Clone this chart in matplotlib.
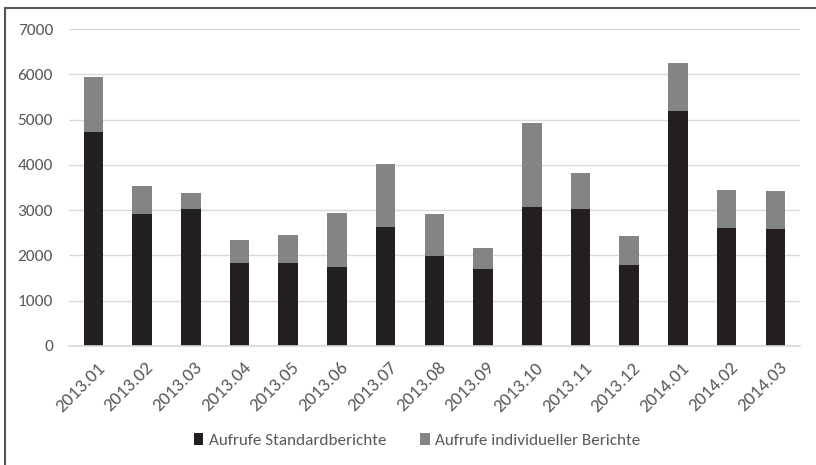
import matplotlib.pyplot as plt
import numpy as np
from matplotlib.lines import Line2D
from matplotlib.transforms import ScaledTranslation

plt.rcParams['font.family'] = ['Carlito', 'DejaVu Sans']

months = ['2013.01', '2013.02', '2013.03', '2013.04', '2013.05', '2013.06',
          '2013.07', '2013.08', '2013.09', '2013.10', '2013.11', '2013.12',
          '2014.01', '2014.02', '2014.03']
standard = [4730, 2920, 3025, 1830, 1835, 1750, 2635, 1985, 1705, 3060,
            3030, 1780, 5180, 2610, 2590]
individual = [1215, 615, 355, 510, 605, 1195, 1385, 920, 455, 1860,
              790, 655, 1060, 825, 825]

fig = plt.figure(figsize=(8.16, 4.65), dpi=100)
ax = fig.add_axes([0.0846, 0.256, 0.8954, 0.6816])

x = np.arange(len(months))
ax.bar(x, standard, width=0.4, color='#231f20', label='Aufrufe Standardberichte', zorder=2)
ax.bar(x, individual, width=0.4, bottom=standard, color='#838485',
       label='Aufrufe individueller Berichte', zorder=2)

ax.set_xlim(-0.5, len(months) - 0.5)
ax.set_ylim(0, 7000)
ax.set_yticks(range(0, 7001, 1000))
ax.yaxis.grid(True, color='#d9d9d9', linewidth=1, zorder=0)
ax.set_axisbelow(True)
for side in ['top', 'right', 'left']:
    ax.spines[side].set_visible(False)
ax.spines['bottom'].set_color('#d9d9d9')
ax.spines['bottom'].set_linewidth(1.2)
ax.tick_params(axis='y', length=0, labelsize=12.5, labelcolor='#595959', pad=11.5)
ax.set_xticks(x)
ax.set_xticklabels(months, rotation=45, ha='right', va='top', rotation_mode='anchor')
ax.tick_params(axis='x', length=0, labelsize=13.5, labelcolor='#595959', pad=4)
# nudge the slanted month labels so they end just right of each bar
shift = ScaledTranslation(3 / 100, -8 / 100, fig.dpi_scale_trans)
for lbl in ax.get_xticklabels():
    lbl.set_transform(lbl.get_transform() + shift)

ax.legend(loc='center', bbox_to_anchor=(0.511, 0.053), bbox_transform=fig.transFigure,
          ncol=2, frameon=False, fontsize=12.3, handlelength=0.55, handleheight=0.75,
          columnspacing=2.0, handletextpad=0.3, labelcolor='#595959')

# outer frame
fig.add_artist(Line2D([5 / 816, 1], [1 - 8 / 465] * 2, color='#555555', lw=1.5))
fig.add_artist(Line2D([5 / 816] * 2, [0, 1 - 8 / 465], color='#555555', lw=1.5))

fig.savefig('out.png', dpi=100)
